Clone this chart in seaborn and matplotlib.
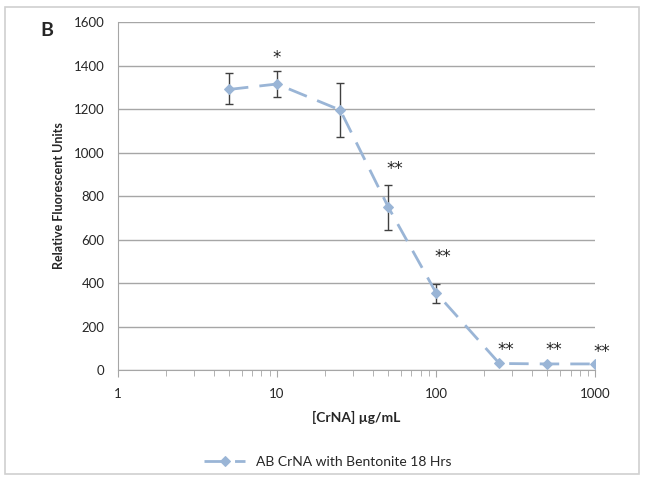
import pandas as pd
import seaborn as sns
import matplotlib.pyplot as plt
import numpy as np

# data
conc = [5, 10, 25, 50, 100, 250, 500, 1000]
rfu = [1290, 1315, 1195, 750, 355, 30, 28, 28]
err_hi = [1365, 1375, 1320, 850, 395, 30, 28, 28]
err_lo = [1225, 1255, 1070, 645, 310, 30, 28, 28]
stars = ['', '*', '', '**', '**', '**', '**', '**']
star_y = [0, 1435, 0, 925, 520, 90, 90, 85]
series_name = 'AB CrNA with Bentonite 18 Hrs'

df = pd.DataFrame({'conc': conc, 'rfu': rfu})
line_color = '#9ab5d6'

sns.set_style('white')
plt.rcParams['font.family'] = ['Lato', 'DejaVu Sans']

fig = plt.figure(figsize=(6.47, 4.84), dpi=100)
ax = fig.add_axes([0.182, 0.2355, 0.738, 0.719])

# error bars first so the line sits on top
yerr = np.array([np.array(rfu) - np.array(err_lo), np.array(err_hi) - np.array(rfu)])
ax.errorbar(conc, rfu, yerr=yerr, fmt='none', ecolor='#404040', elinewidth=1,
            capsize=3, capthick=1, zorder=2)

sns.lineplot(data=df, x='conc', y='rfu', ax=ax, color=line_color, linewidth=2,
             marker='D', markersize=5.5, markeredgecolor=line_color,
             label=series_name, zorder=3)
ax.lines[-1].set_dashes([7, 4])

for x, s, y in zip(conc, stars, star_y):
    if s:
        ax.text(x * 1.1 if len(s) > 1 else x, y, s, ha='center', va='center',
                fontsize=12, color='#222222', family='DejaVu Sans')

ax.set_xscale('log')
ax.set_xlim(1, 1000)
ax.set_ylim(0, 1600)
ax.set_yticks(range(0, 1601, 200))
ax.set_xticks([1, 10, 100, 1000])
ax.set_xticklabels(['1', '10', '100', '1000'])
ax.yaxis.grid(True, color='#a6a6a6', linewidth=1)
ax.xaxis.grid(False)
ax.tick_params(axis='x', which='both', direction='out', bottom=True, color='#a6a6a6',
               labelsize=9.5, pad=8)
ax.tick_params(axis='x', which='major', length=5)
ax.tick_params(axis='x', which='minor', length=4)
ax.tick_params(axis='y', left=False, labelsize=9.5, pad=6)
for side in ['top', 'right']:
    ax.spines[side].set_visible(False)
for side in ['left', 'bottom']:
    ax.spines[side].set_color('#a6a6a6')

ax.set_xlabel('[CrNA] µg/mL', fontsize=10, fontweight='bold', labelpad=8)
ax.set_ylabel('Relative Fluorescent Units', fontsize=9, fontweight='bold', labelpad=6)

ax.legend(loc='upper center', bbox_to_anchor=(0.44, -0.21), frameon=False,
          fontsize=10, handlelength=3)

fig.text(0.062, 0.925, 'B', fontsize=14, fontweight='bold')

# outer frame around the figure
fig.patches.append(plt.Rectangle((0.008, 0.02), 0.98, 0.965, transform=fig.transFigure,
                                 fill=False, edgecolor='#d0d0d0', linewidth=1.2))

fig.savefig('out.png', dpi=100)
